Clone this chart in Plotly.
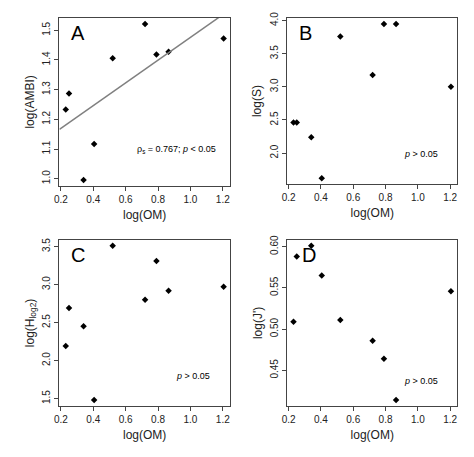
import plotly.graph_objects as go

om = [0.23, 0.25, 0.34, 0.405, 0.52, 0.72, 0.79, 0.865, 1.205]
ambi = [1.233, 1.287, 0.996, 1.117, 1.406, 1.521, 1.418, 1.428, 1.472]
s_vals = [2.46, 2.46, 2.24, 1.62, 3.76, 3.18, 3.95, 3.95, 3.00]
h_vals = [2.19, 2.69, 2.45, 1.48, 3.51, 2.80, 3.31, 2.92, 2.97]
j_vals = [0.509, 0.588, 0.601, 0.565, 0.511, 0.486, 0.464, 0.414, 0.546]
fit_x = [0.191, 1.244]
fit_slope, fit_icpt = 0.383, 1.093

panels = [
    dict(y=ambi, letter="A", ytitle="log(AMBI)", yr=[0.975, 1.542], ticks=[1.0, 1.1, 1.2, 1.3, 1.4, 1.5], fmt="{:.1f}",
         dx=[0.103, 0.481], dy=[0.602, 0.989], note="ρ<sub>s</sub> = 0.767; <i>p</i> < 0.05", ny=1.10),
    dict(y=s_vals, letter="B", ytitle="log(S)", yr=[1.527, 4.043], ticks=[2.0, 2.5, 3.0, 3.5, 4.0], fmt="{:.1f}",
         dx=[0.608, 0.985], dy=[0.606, 0.989], note="<i>p</i> > 0.05", ny=1.98),
    dict(y=h_vals, letter="C", ytitle="log(H<sub>log2</sub>)", yr=[1.399, 3.591], ticks=[1.5, 2.0, 2.5, 3.0, 3.5], fmt="{:.1f}",
         dx=[0.103, 0.481], dy=[0.096, 0.479], note="<i>p</i> > 0.05", ny=1.80),
    dict(y=j_vals, letter="D", ytitle="log(J')", yr=[0.4065, 0.6085], ticks=[0.45, 0.50, 0.55, 0.60], fmt="{:.2f}",
         dx=[0.608, 0.985], dy=[0.096, 0.479], note="<i>p</i> > 0.05", ny=0.437),
]

fig = go.Figure()
ann = []
for i, p in enumerate(panels, start=1):
    xa = "x" if i == 1 else f"x{i}"
    ya = "y" if i == 1 else f"y{i}"
    fig.add_trace(go.Scatter(x=om, y=p["y"], mode="markers", xaxis=xa, yaxis=ya,
                             marker=dict(color="black", size=5, symbol="diamond"), showlegend=False))
    ax = dict(domain=p["dx"], range=[0.191, 1.244], tickvals=[0.2, 0.4, 0.6, 0.8, 1.0, 1.2],
              ticktext=["0.2", "0.4", "0.6", "0.8", "1.0", "1.2"], ticks="outside", ticklen=4,
              showline=True, linecolor="#444", mirror=True, showgrid=False, zeroline=False,
              title=dict(text="log(OM)", standoff=6, font=dict(size=12)), anchor=ya, tickfont=dict(size=10))
    ay = dict(domain=p["dy"], range=p["yr"], tickvals=p["ticks"], ticktext=[p["fmt"].format(t) for t in p["ticks"]],
              ticks="outside", ticklen=4, showline=True, linecolor="#444", mirror=True,
              showgrid=False, zeroline=False, title=dict(text=p["ytitle"], standoff=4, font=dict(size=12)),
              anchor=xa, tickfont=dict(size=10))
    fig.update_layout(**{("xaxis" if i == 1 else f"xaxis{i}"): ax, ("yaxis" if i == 1 else f"yaxis{i}"): ay})
    ann.append(dict(x=0.25 if p["letter"] != "D" else 0.27, y=p["yr"][1] - 0.09 * (p["yr"][1] - p["yr"][0]),
                    xref=xa, yref=ya, text=p["letter"], showarrow=False, xanchor="left",
                    font=dict(size=20, color="black")))
    ann.append(dict(x=1.17 if i == 1 else 0.9, y=p["ny"], xref=xa, yref=ya, text=p["note"], showarrow=False,
                    xanchor="right" if i == 1 else "left", font=dict(size=9, color="black")))

fig.add_trace(go.Scatter(x=fit_x, y=[fit_icpt + fit_slope * v for v in fit_x], mode="lines",
                         line=dict(color="gray", width=1.5), showlegend=False, cliponaxis=True))

fig.update_yaxes(tickangle=-90)
fig.update_layout(width=456, height=440, margin=dict(l=0, r=0, t=0, b=0),
                  plot_bgcolor="white", paper_bgcolor="white", annotations=ann,
                  font=dict(family="Liberation Sans, Arial", color="#222"))
fig.write_html("out.html")
